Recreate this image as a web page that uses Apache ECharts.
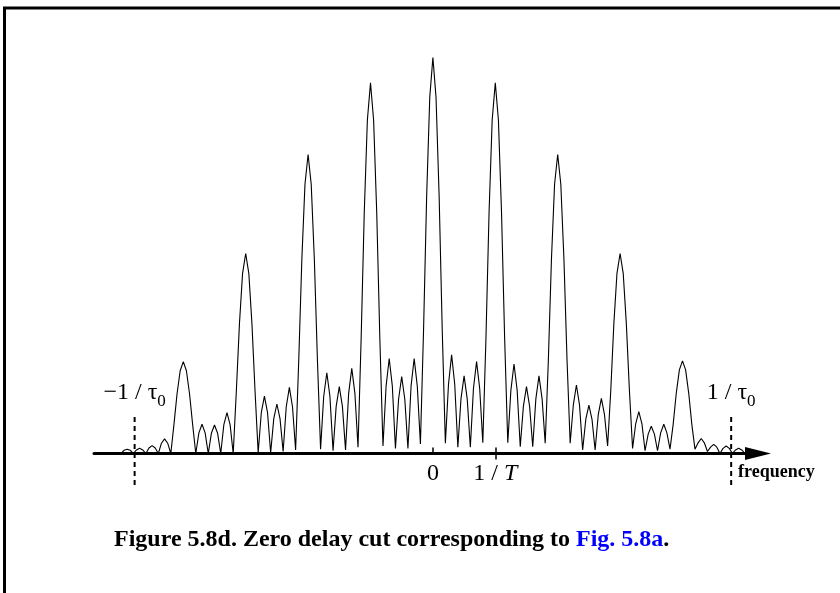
<!DOCTYPE html>
<html>
<head>
<meta charset="utf-8">
<script src="https://cdn.jsdelivr.net/npm/echarts@6/dist/echarts.min.js"></script>
<style>
html,body{margin:0;padding:0;background:#fff;}
#c{width:840px;height:593px;}
</style>
</head>
<body>
<div id="c"></div>
<script>
// frequency in units of 1/T
const freq = [
  -5.00,-4.95,-4.90,-4.85,-4.80,-4.75,-4.70,-4.65,-4.60,-4.55,-4.50,-4.45,-4.40,-4.35,-4.30,-4.25,-4.20,-4.15,-4.10,-4.05,
  -4.00,-3.95,-3.90,-3.85,-3.80,-3.75,-3.70,-3.65,-3.60,-3.55,-3.50,-3.45,-3.40,-3.35,-3.30,-3.25,-3.20,-3.15,-3.10,-3.05,
  -3.00,-2.95,-2.90,-2.85,-2.80,-2.75,-2.70,-2.65,-2.60,-2.55,-2.50,-2.45,-2.40,-2.35,-2.30,-2.25,-2.20,-2.15,-2.10,-2.05,
  -2.00,-1.95,-1.90,-1.85,-1.80,-1.75,-1.70,-1.65,-1.60,-1.55,-1.50,-1.45,-1.40,-1.35,-1.30,-1.25,-1.20,-1.15,-1.10,-1.05,
  -1.00,-0.95,-0.90,-0.85,-0.80,-0.75,-0.70,-0.65,-0.60,-0.55,-0.50,-0.45,-0.40,-0.35,-0.30,-0.25,-0.20,-0.15,-0.10,-0.05,
  0.00,0.05,0.10,0.15,0.20,0.25,0.30,0.35,0.40,0.45,0.50,0.55,0.60,0.65,0.70,0.75,0.80,0.85,0.90,0.95,
  1.00,1.05,1.10,1.15,1.20,1.25,1.30,1.35,1.40,1.45,1.50,1.55,1.60,1.65,1.70,1.75,1.80,1.85,1.90,1.95,
  2.00,2.05,2.10,2.15,2.20,2.25,2.30,2.35,2.40,2.45,2.50,2.55,2.60,2.65,2.70,2.75,2.80,2.85,2.90,2.95,
  3.00,3.05,3.10,3.15,3.20,3.25,3.30,3.35,3.40,3.45,3.50,3.55,3.60,3.65,3.70,3.75,3.80,3.85,3.90,3.95,
  4.00,4.05,4.10,4.15,4.20,4.25,4.30,4.35,4.40,4.45,4.50,4.55,4.60,4.65,4.70,4.75,4.80,4.85,4.90,4.95,
  5.00
];
// relative amplitude |chi(0, f)| (centre peak = 1)
const amp = [
  0,0.008,0.011,0.008,0,0.009,0.013,0.009,0,0.014,0.020,0.014,0,0.026,0.037,0.026,0,0.073,0.151,0.209,
  0.232,0.209,0.151,0.073,0,0.052,0.074,0.052,0,0.051,0.072,0.051,0,0.073,0.103,0.073,0,0.157,0.328,0.455,
  0.505,0.455,0.328,0.157,0.002,0.103,0.145,0.103,0.002,0.088,0.125,0.088,0.005,0.118,0.167,0.118,0.009,0.234,0.491,0.680,
  0.755,0.680,0.491,0.234,0.011,0.144,0.204,0.144,0.007,0.119,0.169,0.119,0.009,0.152,0.215,0.152,0.016,0.290,0.608,0.842,
  0.936,0.842,0.608,0.290,0.019,0.170,0.240,0.170,0.013,0.137,0.194,0.137,0.013,0.170,0.240,0.170,0.024,0.310,0.650,0.900,
  1.000,0.900,0.650,0.310,0.026,0.175,0.249,0.175,0.016,0.138,0.196,0.138,0.016,0.164,0.232,0.164,0.027,0.290,0.608,0.842,
  0.936,0.842,0.608,0.290,0.027,0.160,0.226,0.160,0.017,0.119,0.169,0.119,0.017,0.138,0.196,0.138,0.026,0.234,0.491,0.680,
  0.755,0.680,0.491,0.234,0.026,0.122,0.173,0.122,0.009,0.086,0.122,0.086,0.009,0.098,0.139,0.098,0.019,0.157,0.328,0.455,
  0.505,0.455,0.328,0.157,0.013,0.075,0.106,0.075,0.007,0.049,0.069,0.049,0.007,0.052,0.074,0.052,0.011,0.073,0.152,0.211,
  0.234,0.211,0.152,0.073,0.011,0.027,0.038,0.027,0.005,0.016,0.023,0.016,0,0.013,0.019,0.013,0,0.009,0.013,0.009,
  0
];
const tickValues = [0, 1];
const tickLabels = ['0', '1 / T'];
const tau0 = 4.78;                 // 1/tau0 in units of 1/T
const tauLabels = ['\u22121 / \u03c4', '1 / \u03c4'];
const tauSub = '0';
const axisName = 'frequency';
const captionMain = 'Figure 5.8d. Zero delay cut corresponding to ';
const captionLink = 'Fig. 5.8a';
const captionEnd = '.';

const SERIF = '"Liberation Serif","Times New Roman",serif';
const dashTop = 0.092, dashBottom = -0.082;
const curve = freq.map((f, i) => [f, amp[i]]);

const chart = echarts.init(document.getElementById('c'), null, {renderer: 'canvas'});
const xMin = -5.431, xMax = 5.210;

chart.setOption({
  animation: false,
  backgroundColor: '#fff',
  title: {
    text: '{b|' + captionMain + '}{l|' + captionLink + '}{b|' + captionEnd + '}',
    left: 114, top: 528, padding: 0,
    textStyle: {
      rich: {
        b: {fontFamily: SERIF, fontWeight: 'bold', fontSize: 24, lineHeight: 24, color: '#000'},
        l: {fontFamily: SERIF, fontWeight: 'bold', fontSize: 24, lineHeight: 24, color: '#0000ff'}
      }
    }
  },
  graphic: [{
    type: 'polyline',
    shape: {points: [[4.5, 593], [4.5, 8], [840, 8]]},
    style: {stroke: '#000', lineWidth: 3, fill: 'none'}
  }],
  grid: {left: 94, right: 82, top: 37.7, bottom: 139.5, containLabel: false},
  xAxis: [{
    type: 'value', min: xMin, max: xMax, position: 'bottom',
    splitLine: {show: false},
    axisLine: {show: true, onZero: false, lineStyle: {color: '#000', width: 3},
      symbol: ['none', 'triangle'], symbolSize: [13, 26]},
    axisTick: {show: true, customValues: tickValues, inside: true, length: 6,
      lineStyle: {color: '#000', width: 1.5}},
    axisLabel: {
      show: true, customValues: tickValues, margin: 8,
      fontFamily: SERIF, fontSize: 24, color: '#000',
      formatter: function (v) {
        const i = tickValues.indexOf(v);
        const s = i >= 0 ? tickLabels[i] : '';
        if (s.indexOf('T') >= 0) {
          const p = s.split('T');
          return '{n|' + p[0] + '}{i|T}';
        }
        return '{n|' + s + '}';
      },
      rich: {
        n: {fontFamily: SERIF, fontSize: 24, lineHeight: 24, color: '#000'},
        i: {fontFamily: SERIF, fontSize: 24, lineHeight: 24, fontStyle: 'italic', color: '#000'}
      }
    },
    name: axisName, nameLocation: 'end', nameGap: -20,
    nameTextStyle: {fontFamily: SERIF, fontWeight: 'bold', fontSize: 18, color: '#000',
      align: 'left', verticalAlign: 'top', padding: [10, 0, 0, 0]}
  }, {
    type: 'value', min: xMin, max: xMax, position: 'bottom',
    splitLine: {show: false}, axisLine: {show: false},
    axisTick: {show: true, customValues: [1], inside: false, length: 6,
      lineStyle: {color: '#000', width: 1.5}},
    axisLabel: {show: false}
  }],
  yAxis: {type: 'value', min: 0, max: 1.05, show: false},
  series: [{
    name: 'zero delay cut', type: 'line', data: curve,
    showSymbol: false, symbol: 'none', clip: false,
    lineStyle: {color: '#000', width: 1.1}, z: 3
  }, {
    type: 'line', data: [[-tau0, dashTop], [-tau0, dashBottom]],
    symbol: 'none', clip: false,
    lineStyle: {color: '#000', width: 2, type: [5, 4]}
  }, {
    type: 'line', data: [[tau0, dashTop], [tau0, dashBottom]],
    symbol: 'none', clip: false,
    lineStyle: {color: '#000', width: 2, type: [5, 4]}
  }, {
    type: 'scatter', data: [[-tau0, dashTop], [tau0, dashTop]],
    symbolSize: 0, itemStyle: {color: '#000', opacity: 1}, clip: false,
    label: {
      show: true, position: 'top', distance: 12, color: '#000', opacity: 1,
      formatter: function (p) { return '{a|' + tauLabels[p.dataIndex] + '}{s|' + tauSub + '}'; },
      rich: {
        a: {fontFamily: SERIF, fontSize: 24, lineHeight: 24, color: '#000'},
        s: {fontFamily: SERIF, fontSize: 17, lineHeight: 17, color: '#000', padding: [17, 0, 0, 0]}
      }
    }
  }]
});
</script>
</body>
</html>
